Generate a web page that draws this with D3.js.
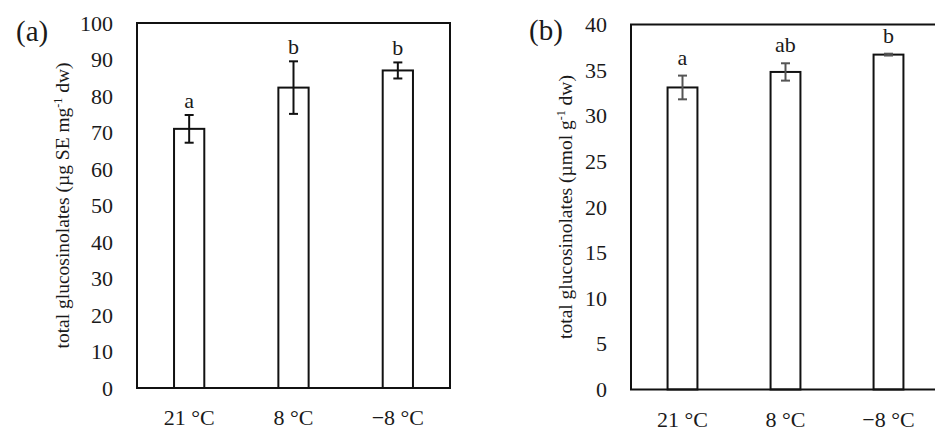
<!DOCTYPE html>
<html lang="en">
  <head>
    <meta charset="UTF-8" />
    <title>Total glucosinolates</title>
    <script src="https://cdn.jsdelivr.net/npm/d3@7"></script>
    <style>
      body { margin: 0; background: #fff; }
      svg { display: block; }
      text { font-family: "Liberation Serif", "DejaVu Serif", serif; fill: #1a1a1a; }
    </style>
  </head>
  <body>
    <svg width="935" height="432"></svg>

    <script>
      var temps = ["21 °C", "8 °C", "\u22128 °C"];

      var valuesA = [71.0, 82.3, 87.0];
      var errA = [3.8, 7.2, 2.2];
      var lettersA = ["a", "b", "b"];
      var ticksA = [0, 10, 20, 30, 40, 50, 60, 70, 80, 90, 100];

      var valuesB = [33.1, 34.8, 36.7];
      var errB = [1.3, 0.95, 0.1];
      var lettersB = ["a", "ab", "b"];
      var ticksB = [0, 5, 10, 15, 20, 25, 30, 35, 40];

      var svg = d3.select("svg");

      function panel(opt) {
        var g = svg.append("g")
          .attr("transform", "translate(" + opt.left + "," + opt.top + ")");

        var x = d3.scaleBand().domain(temps).range([0, opt.width])
          .paddingInner(0.71).paddingOuter(0.355);
        var y = d3.scaleLinear().domain([0, opt.max]).range([opt.height, 0]);

        var data = temps.map(function (t, i) {
          return { t: t, v: opt.values[i], e: opt.errs[i], l: opt.letters[i] };
        });

        // y tick labels
        var ya = g.append("g")
          .call(d3.axisLeft(y).tickValues(opt.ticks).tickSize(0).tickPadding(24));
        ya.select(".domain").remove();
        ya.selectAll("text").style("font-size", "22px");

        // x labels
        var xa = g.append("g")
          .attr("transform", "translate(0," + opt.height + ")")
          .call(d3.axisBottom(x).tickSize(0).tickPadding(21.5));
        xa.select(".domain").remove();
        xa.selectAll("text").style("font-size", "22px");

        // bars
        g.selectAll(".bar")
          .data(data)
          .enter()
          .append("rect")
          .attr("class", "bar")
          .attr("x", function (d) { return x(d.t); })
          .attr("y", function (d) { return y(d.v); })
          .attr("width", x.bandwidth())
          .attr("height", function (d) { return opt.height - y(d.v); })
          .attr("fill", "#fff")
          .attr("stroke", "#111")
          .attr("stroke-width", 2);

        // error bars
        var eb = g.selectAll(".err")
          .data(data)
          .enter()
          .append("g")
          .attr("class", "err")
          .attr("stroke", opt.errColor)
          .attr("stroke-width", 2);
        eb.append("line")
          .attr("x1", function (d) { return x(d.t) + x.bandwidth() / 2; })
          .attr("x2", function (d) { return x(d.t) + x.bandwidth() / 2; })
          .attr("y1", function (d) { return y(d.v + d.e); })
          .attr("y2", function (d) { return y(d.v - d.e); });
        [1, -1].forEach(function (s) {
          eb.append("line")
            .attr("x1", function (d) { return x(d.t) + x.bandwidth() / 2 - 4.5; })
            .attr("x2", function (d) { return x(d.t) + x.bandwidth() / 2 + 4.5; })
            .attr("y1", function (d) { return y(d.v + s * d.e); })
            .attr("y2", function (d) { return y(d.v + s * d.e); });
        });

        // significance letters
        g.selectAll(".letter")
          .data(data)
          .enter()
          .append("text")
          .attr("class", "letter")
          .attr("x", function (d) { return x(d.t) + x.bandwidth() / 2; })
          .attr("y", function (d) { return y(d.v + d.e) - opt.letterGap; })
          .attr("text-anchor", "middle")
          .style("font-size", "22px")
          .text(function (d) { return d.l; });

        // frame
        g.append("rect")
          .attr("width", opt.width)
          .attr("height", opt.height)
          .attr("fill", "none")
          .attr("stroke", "#111")
          .attr("stroke-width", 2);

        // y title
        var t = g.append("text")
          .attr("transform", "translate(" + opt.titleX + "," + opt.height / 2 + ") rotate(-90)")
          .attr("text-anchor", "middle")
          .style("font-size", "19.5px");
        t.append("tspan").text(opt.titleA);
        t.append("tspan").style("font-size", "12px").attr("dy", -7).text("-1");
        t.append("tspan").attr("dy", 7).text(opt.titleB);

        // panel letter
        svg.append("text")
          .attr("x", opt.tagX)
          .attr("y", opt.tagY)
          .style("font-size", "29px")
          .text(opt.tag);
      }

      panel({
        left: 137, top: 23, width: 313, height: 365, max: 100,
        values: valuesA, errs: errA, letters: lettersA, ticks: ticksA,
        errColor: "#111", letterGap: 7, titleX: -68,
        titleA: "total glucosinolates (µg SE mg", titleB: " dw)",
        tag: "(a)", tagX: 16, tagY: 41
      });

      panel({
        left: 631, top: 24.5, width: 309, height: 365, max: 40,
        values: valuesB, errs: errB, letters: lettersB, ticks: ticksB,
        errColor: "#555", letterGap: 11, titleX: -59.5,
        titleA: "total glucosinolates (µmol g", titleB: " dw)",
        tag: "(b)", tagX: 529, tagY: 40
      });
    </script>
  </body>
</html>
